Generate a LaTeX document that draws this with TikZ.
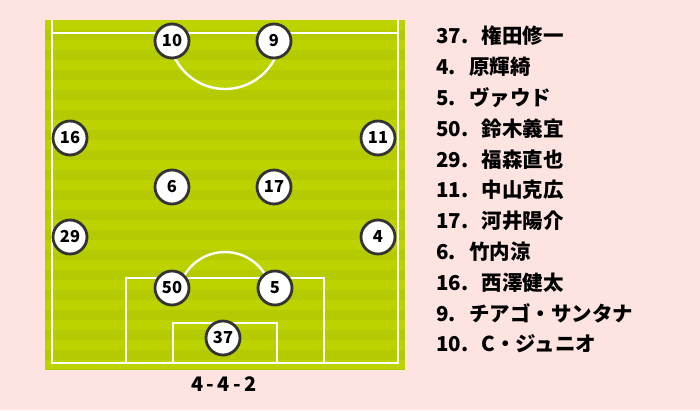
\documentclass[tikz,border=0pt]{standalone}
\usepackage{fontspec}
\newfontfamily\jpfont{Noto Sans CJK JP}
\definecolor{bgpink}{HTML}{FDE4E0}
\definecolor{pitchA}{HTML}{BCD300}
\definecolor{pitchB}{HTML}{B3CB00}
\definecolor{ringgray}{HTML}{333333}
\begin{document}
\begin{tikzpicture}[x=1pt,y=-1pt,
  player/.style={circle,draw=ringgray,line width=2.8pt,fill=white,minimum size=34pt,inner sep=0pt,font=\jpfont\bfseries\fontsize{16.5}{16.5}\selectfont},
  pline/.style={draw=white,line width=2.4pt},
  listitem/.style={anchor=west,inner sep=0pt,font=\jpfont\bfseries\fontsize{20.5}{20.5}\selectfont}]
\useasboundingbox (0,0) rectangle (700,410);
\fill[bgpink] (0,0) rectangle (700,410);
% pitch with stripes
\fill[pitchA] (45,20) rectangle (405,369);
\foreach \i in {0,...,17} {
  \fill[pitchB] (45,{20+\i*20+10}) rectangle (405,{min(20+\i*20+20,369)});
}
% lines
\draw[pline] (52,20) -- (52,363) -- (398,363) -- (398,20);
\draw[pline] (52,33) -- (398,33);
\draw[pline] (169,33) arc[start angle=180,end angle=0,radius=56];
\draw[pline] (126,363) -- (126,278) -- (324,278) -- (324,363);
\draw[pline] (173,363) -- (173,323) -- (277,323) -- (277,363);
\begin{scope}
\clip (100,200) rectangle (350,278);
\draw[pline] (225,299) circle[radius=47];
\end{scope}
% players
\node[player] (p10) at (172,41) {10};
\node[player] (p9) at (274,41) {9};
\node[player] (p16) at (70,138) {16};
\node[player] (p11) at (378,138) {11};
\node[player] (p6) at (172,187) {6};
\node[player] (p17) at (274,187) {17};
\node[player] (p29) at (70,237) {29};
\node[player] (p4) at (378,237) {4};
\node[player] (p50) at (172,288) {50};
\node[player] (p5) at (275,288) {5};
\node[player] (p37) at (223,338) {37};
\node[font=\jpfont\bfseries\fontsize{20}{20}\selectfont] (form) at (224,384) {4\,-\,4\,-\,2};
% list
\node[listitem] (l1) at (436,36) {37.\hspace{0.65em}権田修一};
\node[listitem] (l2) at (436,66.8) {4.\hspace{0.65em}原輝綺};
\node[listitem] (l3) at (436,97.6) {5.\hspace{0.65em}ヴァウド};
\node[listitem] (l4) at (436,128.4) {50.\hspace{0.65em}鈴木義宜};
\node[listitem] (l5) at (436,159.2) {29.\hspace{0.65em}福森直也};
\node[listitem] (l6) at (436,190) {11.\hspace{0.65em}中山克広};
\node[listitem] (l7) at (436,220.8) {17.\hspace{0.65em}河井陽介};
\node[listitem] (l8) at (436,251.6) {6.\hspace{0.65em}竹内涼};
\node[listitem] (l9) at (436,282.4) {16.\hspace{0.65em}西澤健太};
\node[listitem] (l10) at (436,313.2) {9.\hspace{0.65em}チアゴ・サンタナ};
\node[listitem] (l11) at (436,344) {10.\hspace{0.65em}C・ジュニオ};
\end{tikzpicture}
\end{document}
